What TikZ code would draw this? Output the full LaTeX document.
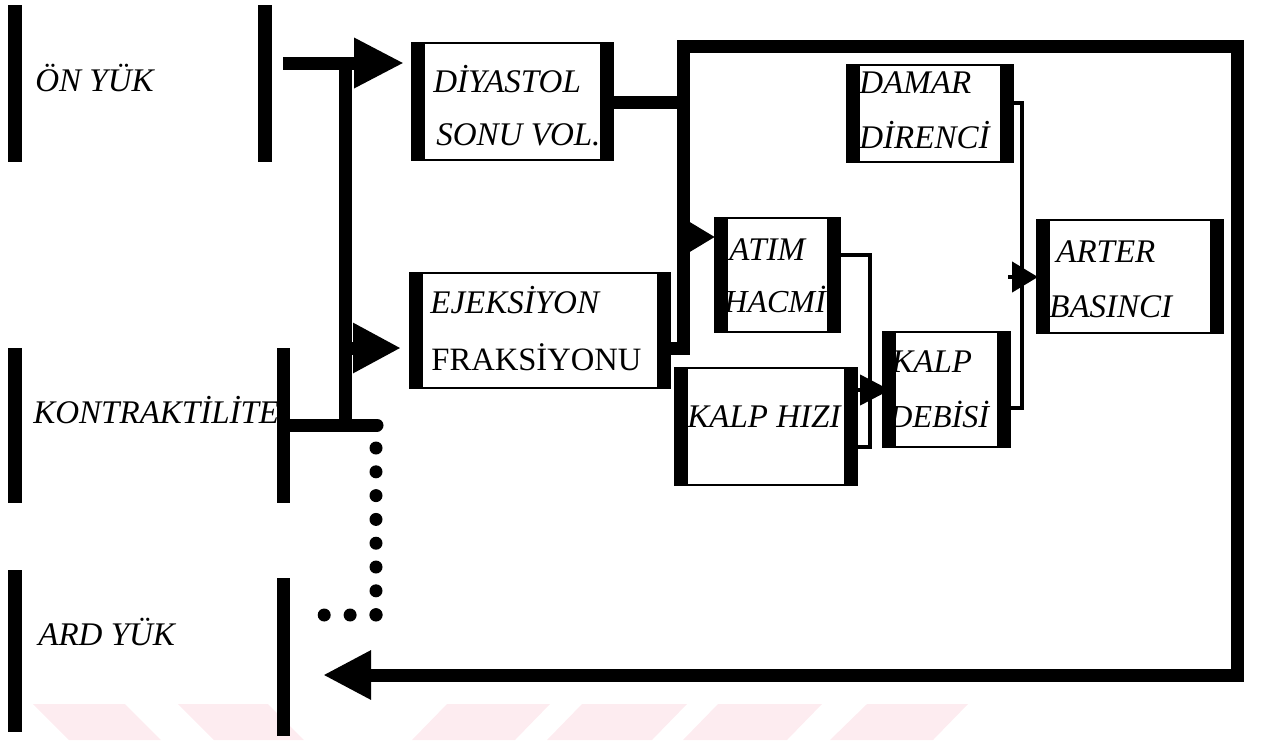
\documentclass[tikz,border=0pt]{standalone}
\usepackage{fontspec}
\setmainfont{Liberation Serif}
\usetikzlibrary{arrows.meta,calc,fit}
\definecolor{wm}{RGB}{253,236,240}
\begin{document}
\begin{tikzpicture}[x=0.5pt,y=-0.5pt,
  bar/.style={fill=black, inner sep=0pt, outer sep=0pt},
  blk/.style={draw, line width=1pt, inner sep=0pt, outer sep=0pt,
    path picture={
      \fill (path picture bounding box.south west) rectangle ([xshift=6.5pt]path picture bounding box.north west);
      \fill ([xshift=-6.5pt]path picture bounding box.south east) rectangle (path picture bounding box.north east);}},
  lbl/.style={anchor=base west, inner sep=0pt, font=\fontsize{16.5}{19}\selectfont\itshape},
  lblup/.style={anchor=base west, inner sep=0pt, font=\fontsize{16.3}{19}\selectfont},
  thk/.style={line width=6.5pt},
  thn/.style={line width=2.2pt},
  dotline/.style={line width=6.5pt, line cap=round},
  wmark/.style={fill=wm, draw=none}]
\useasboundingbox (0,0) rectangle (1264,740);
% watermark
\fill[wmark] (33,704) -- (125,704) -- (161,740) -- (69,740) -- cycle;
\fill[wmark] (178,704) -- (268,704) -- (304,740) -- (214,740) -- cycle;
\fill[wmark] (447,704) -- (550,704) -- (515,740) -- (412,740) -- cycle;
\fill[wmark] (582,704) -- (687,704) -- (652,740) -- (547,740) -- cycle;
\fill[wmark] (718,704) -- (822,704) -- (787,740) -- (683,740) -- cycle;
\fill[wmark] (867,704) -- (968,704) -- (933,740) -- (830,740) -- cycle;

% left-hand entries
\node[bar, fit={(8,5)(22,162)}] (onL) {};
\node[bar, fit={(258,5)(272,162)}] (onR) {};
\node[lbl] (onT) at (35,91) {ÖN YÜK};
\node[bar, fit={(8,348)(22,503)}] (koL) {};
\node[bar, fit={(277,348)(290,503)}] (koR) {};
\node[lbl] (koT) at (33,423) {KONTRAKTİLİTE};
\node[bar, fit={(8,570)(22,732)}] (arL) {};
\node[bar, fit={(277,578)(290,736)}] (arR) {};
\node[lbl] (arT) at (38,645) {ARD YÜK};

% boxes
\node[blk, fit={(412,43)(613,160)}] (dsv) {};
\node[lbl] (dsvA) at (433,92) {DİYASTOL};
\node[lbl] (dsvB) at (436,145) {SONU VOL.};
\node[blk, fit={(410,273)(670,388)}] (ef) {};
\node[lbl] (efA) at (430,313) {EJEKSİYON};
\node[lblup] (efB) at (431,370) {FRAKSİYONU};
\node[blk, fit={(715,218)(840,332)}] (atim) {};
\node[lbl] (atimA) at (729,260) {ATIM};
\node[lbl, font=\fontsize{16}{19}\selectfont\itshape] (atimB) at (724,312) {HACMİ};
\node[blk, fit={(675,368)(857,485)}] (kh) {};
\node[lbl] (khA) at (687,427) {KALP HIZI};
\node[blk, fit={(883,332)(1010,447)}] (kd) {};
\node[lbl] (kdA) at (891,372) {KALP};
\node[lbl, font=\fontsize{16}{19}\selectfont\itshape] (kdB) at (889,427) {DEBİSİ};
\node[blk, fit={(847,65)(1013,162)}] (dd) {};
\node[lbl] (ddA) at (859,93) {DAMAR};
\node[lbl] (ddB) at (859,148) {DİRENCİ};
\node[blk, fit={(1037,220)(1223,333)}] (ab) {};
\node[lbl] (abA) at (1056,262) {ARTER};
\node[lbl] (abB) at (1049,317) {BASINCI};

% junction coordinates
\coordinate (onOut) at (283,63);
\coordinate (vtop) at (345,63);
\coordinate (vmid) at (345,348);
\coordinate (vbot) at (345,425);
\coordinate (koEnd) at (377,425);
\coordinate (d1) at (376,448);
\coordinate (d2) at (376,615);
\coordinate (d3) at (324,615);
\coordinate (mtop) at (683,46);
\coordinate (rtop) at (1237,46);
\coordinate (rbot) at (1237,675);

% thick connectors
\draw[thk, -{Triangle[length=25pt,width=23.5pt]}] (onOut) -- ($(dsv.west|-onOut)+(-8,0)$);
\draw[thk] (vtop) -- (vbot);
\draw[thk, line cap=round] (koR.east|-vbot) -- (koEnd);
\draw[thk, -{Triangle[length=24pt,width=23.5pt]}] (vmid) -- ($(ef.west|-vmid)+(-9,0)$);
\draw[thk] (dsv.east|-0,102) -- (683,102);
\draw[thk, -{Triangle[length=24pt,width=23pt]}] (ef.east|-0,348) -| (mtop) -- (rtop) -- (rbot) -- ($(arR.east|-rbot)+(33,0)$);
\draw[thk, -{Triangle[length=13.5pt,width=15pt]}] (683,237) -- (atim.west|-0,237);

% thin connectors
\draw[thn] (atim.east|-0,255) -| (870,447) -- (kh.east|-0,447);
\draw[thn, -{Triangle[length=15pt,width=15pt]}] (kh.east|-0,390) -- ($(kd.west|-0,390)+(7,0)$);
\draw[thn] (dd.east|-0,103) -| (1022,408) -- (kd.east|-0,408);
\draw[thn, -{Triangle[length=13pt,width=15pt]}] (1008,277) -- ($(ab.west|-0,277)+(1,0)$);

% dotted connector
\draw[dotline, dash pattern=on 0pt off 11.9pt] (d1) -- (d2);
\draw[dotline, dash pattern=on 0pt off 12.95pt] (d2) -- (d3);
\end{tikzpicture}
\end{document}
